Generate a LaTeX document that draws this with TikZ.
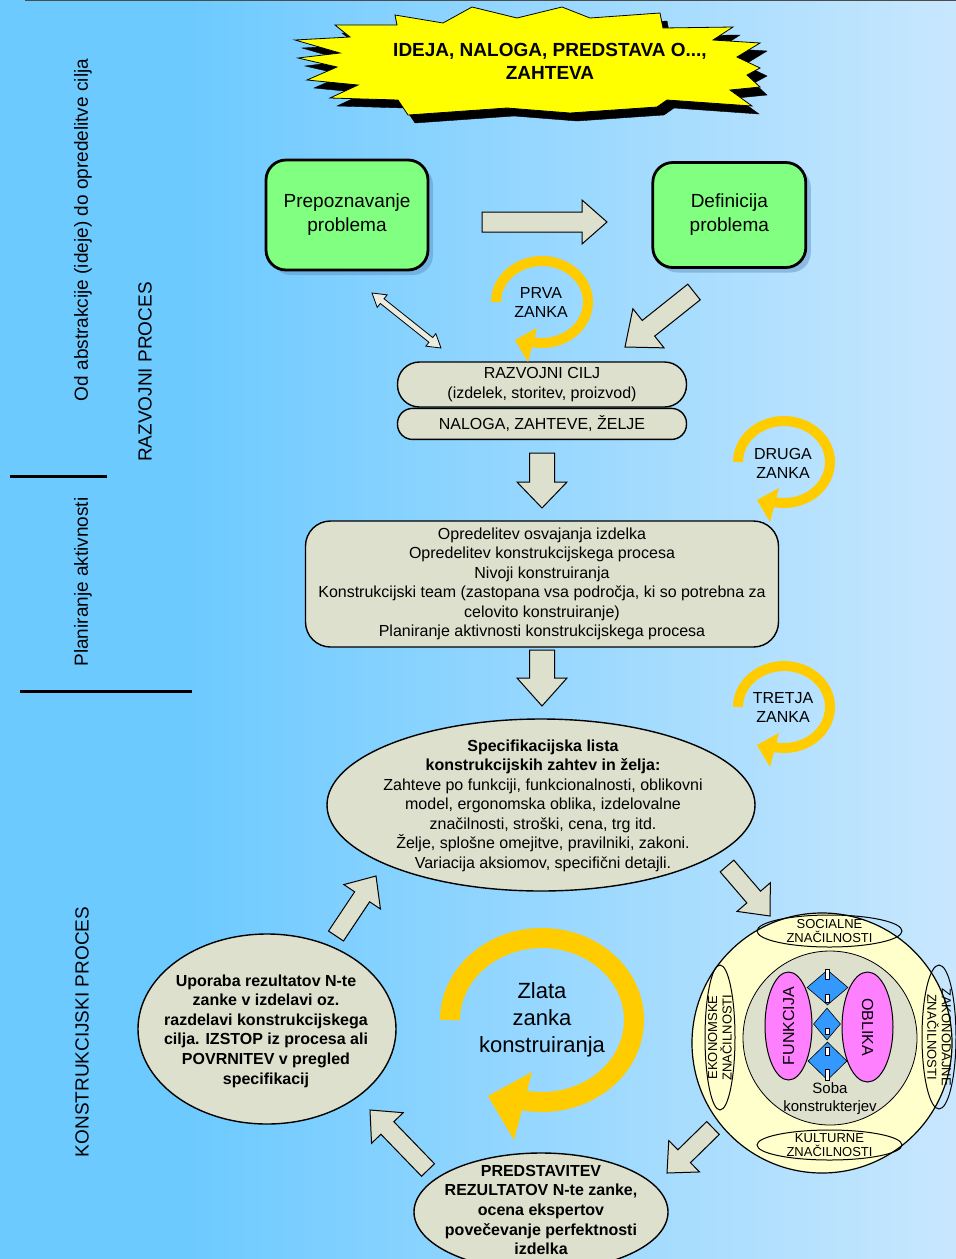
\documentclass[tikz,border=0pt]{standalone}
\usepackage{fontspec}
\setmainfont{Liberation Sans}
\usepackage{xcolor}
\usetikzlibrary{calc,positioning,shapes.geometric,shadows}

\definecolor{ozadjeL}{RGB}{109,202,255}
\definecolor{ozadjeR}{RGB}{200,231,254}
\definecolor{sivka}{RGB}{221,224,204}
\definecolor{zelena}{RGB}{128,255,128}
\definecolor{rumena}{RGB}{255,255,0}
\definecolor{zlata}{RGB}{255,204,0}
\definecolor{krem}{RGB}{255,255,204}
\definecolor{roza}{RGB}{255,128,255}
\definecolor{modra}{RGB}{51,153,255}
\definecolor{senca}{RGB}{90,140,190}

\newcommand\fs[2]{\fontsize{#1}{#2}\selectfont}

\begin{document}
\begin{tikzpicture}[x=1pt, y=-1pt,
  zelen/.style={draw, line width=2.8pt, fill=zelena, rounded corners=20pt, align=center, font={\fs{19}{24}},
    drop shadow={shadow xshift=5pt, shadow yshift=-5pt, fill=senca, opacity=.45}},
  pilula/.style={draw, line width=1.4pt, fill=sivka, align=center, font={\fs{16}{20}}, inner sep=1pt},
  elipsa/.style={ellipse, draw, line width=1.4pt, fill=sivka, inner sep=0pt},
  napis/.style={align=center, font={\fs{16}{19.5}}, inner sep=0pt},
  krepko/.style={align=center, font={\bfseries\fs{16}{19.6}}, inner sep=0pt},
  stran/.style={rotate=90, font={\fs{19}{22}}, inner sep=0pt},
  mali/.style={align=center, font={\fs{13}{14.5}}, inner sep=0pt},
  oval/.style={ellipse, draw, line width=1pt, inner sep=0pt},
  romb/.style={diamond, draw, fill=modra, line width=0.6pt, inner sep=0pt},
  zankanapis/.style={align=center, font={\fs{16}{19}}, inner sep=0pt},
  blok/.style args={#1/#2/#3}{fill=sivka, draw=black, line width=1pt,
    to path={let \p1=($(\tikztotarget)!#3!(\tikztostart)$) in
      ($(\tikztostart)!#1!90:(\tikztotarget)$) -- ($(\p1)!#1!90:(\tikztotarget)$)
      -- ($(\p1)!#2!90:(\tikztotarget)$) -- (\tikztotarget)
      -- ($(\p1)!#2!-90:(\tikztotarget)$) -- ($(\p1)!#1!-90:(\tikztotarget)$)
      -- ($(\tikztostart)!#1!-90:(\tikztotarget)$) -- cycle}},
  dvoj/.style args={#1/#2/#3}{fill=sivka!60!white, draw=black, line width=0.8pt,
    to path={let \p1=($(\tikztostart)!#3!(\tikztotarget)$), \p2=($(\tikztotarget)!#3!(\tikztostart)$) in
      (\tikztostart) -- ($(\p1)!#2!90:(\tikztotarget)$) -- ($(\p1)!#1!90:(\tikztotarget)$)
      -- ($(\p2)!#1!90:(\tikztotarget)$) -- ($(\p2)!#2!90:(\tikztotarget)$) -- (\tikztotarget)
      -- ($(\p2)!#2!-90:(\tikztotarget)$) -- ($(\p2)!#1!-90:(\tikztotarget)$)
      -- ($(\p1)!#1!-90:(\tikztotarget)$) -- ($(\p1)!#2!-90:(\tikztotarget)$) -- cycle}},
  pics/zanka/.style={code={
    \draw[zlata, line width=#1] (180:46 and 41) arc[start angle=180, end angle=462, x radius=46, y radius=41];
    \fill[zlata] (-27,38) -- (-5,26) -- (-14,60) -- cycle;}},
  pics/zvezda/.style={code={
    \filldraw[#1] (295,40) -- (350,37) -- (335,25) -- (397,25) -- (395,15) -- (443,23) -- (472,7)
      -- (517,18) -- (562,7) -- (590,18) -- (660,13) -- (663,28) -- (733,27) -- (713,40) -- (760,43)
      -- (737,57) -- (760,68) -- (747,75) -- (760,87) -- (730,90) -- (752,106) -- (667,100) -- (657,107)
      -- (570,113) -- (507,108) -- (408,115) -- (398,100) -- (330,98) -- (358,85) -- (307,80)
      -- (337,67) -- (298,58) -- (340,53) -- cycle;}}]

  \useasboundingbox (0,0) rectangle (956,1259);
  \clip (0,0) rectangle (956,1259);
  \fill[ozadjeL] (0,0) rectangle (956,1259);
  \shade[left color=ozadjeL, right color=ozadjeR] (190,0) rectangle (956,1259);
  \draw[gray!60!black, line width=0.8pt] (25,0.4) -- (956,0.4);

  \draw[line width=3pt] (10,476) -- (107,476);
  \draw[line width=3pt] (20,691) -- (192,691);
  \node[stran] (abstr)  at (83,230)  {Od abstrakcije (ideje) do opredelitve cilja};
  \node[stran] (razv)   at (145,372) {RAZVOJNI PROCES};
  \node[stran] (plakt)  at (83,582)  {Planiranje aktivnosti};
  \node[stran] (konstr) at (82,1032) {KONSTRUKCIJSKI PROCES};

  \pic at (7,8) {zvezda={fill=black}};
  \pic {zvezda={fill=rumena, draw=black, line width=0.8pt}};
  \node[font={\bfseries\fs{19}{23}}, align=center] (ideja) at (550,61) {IDEJA, NALOGA, PREDSTAVA O...,\\ZAHTEVA};

  \node[zelen, minimum width=162pt, minimum height=110pt] (prep) at (347,215) {Prepoznavanje\\problema};
  \node[zelen, minimum width=153pt, minimum height=105pt] (defi) [right=222pt of prep] {Definicija\\problema};

  \node[pilula, rounded corners=22pt, minimum width=289pt, minimum height=45pt] (cilj) at (542,384.5) {RAZVOJNI CILJ\\(izdelek, storitev, proizvod)};
  \node[pilula, rounded corners=15pt, minimum width=289pt, minimum height=31pt] (naloga) [below=0pt of cilj] {NALOGA, ZAHTEVE, ŽELJE};

  \node[pilula, rounded corners=25pt, minimum width=473pt, minimum height=126pt, font={\fs{16}{19.5}}] (plan) at (542,584)
    {Opredelitev osvajanja izdelka\\Opredelitev konstrukcijskega procesa\\Nivoji konstruiranja\\
     Konstrukcijski team (zastopana vsa področja, ki so potrebna za\\celovito konstruiranje)\\
     Planiranje aktivnosti konstrukcijskega procesa};

  \node[elipsa, minimum width=428pt, minimum height=172pt] (spec) at (541,805) {};
  \node[napis] (spectxt) at (543,805.5) {\textbf{Specifikacijska lista}\\\textbf{konstrukcijskih zahtev in želja:}\\
     Zahteve po funkciji, funkcionalnosti, oblikovni\\model, ergonomska oblika, izdelovalne\\
     značilnosti, stroški, cena, trg itd.\\Želje, splošne omejitve, pravilniki, zakoni.\\
     Variacija aksiomov, specifični detajli.};

  \node[elipsa, minimum width=258pt, minimum height=190pt] (upor) at (267,1029) {};
  \node[krepko] (uportxt) at (266,1031) {Uporaba rezultatov N-te\\zanke v izdelavi oz.\\razdelavi konstrukcijskega\\
     cilja. IZSTOP iz procesa ali\\POVRNITEV v pregled\\specifikacij};

  \node[elipsa, minimum width=254pt, minimum height=118pt] (pred) at (541,1212) {};
  \node[krepko] (predtxt) at (541,1210) {PREDSTAVITEV\\REZULTATOV N-te zanke,\\ocena ekspertov\\
     povečevanje perfektnosti\\izdelka};

  \node[ellipse, draw, line width=1.2pt, fill=krem, minimum width=260pt, minimum height=260pt] (sfera) at (822,1043) {};
  \node[circle, draw, line width=0.8pt, fill=sivka, minimum size=174pt] (soba) at (830,1038) {};
  \node[oval, minimum width=145pt, minimum height=32pt] (social) at (829.5,931) {};
  \node[mali] (socialtxt) at (social) {SOCIALNE\\ZNAČILNOSTI};
  \node[oval, minimum width=145pt, minimum height=30pt] (kultur) at (829.5,1145) {};
  \node[mali] (kulturtxt) at (kultur) {KULTURNE\\ZNAČILNOSTI};
  \node[oval, minimum width=30pt, minimum height=145pt] (ekonom) at (720,1037.5) {};
  \node[mali, rotate=90] (ekonomtxt) at (ekonom) {EKONOMSKE\\ZNAČILNOSTI};
  \node[oval, minimum width=34pt, minimum height=144pt] (zakon) at (939,1037) {};
  \node[mali, rotate=-90] (zakontxt) at (zakon) {ZAKONODAJNE\\ZNAČILNOSTI};
  \node[oval, fill=roza, minimum width=47pt, minimum height=108pt] (funk) at (788.5,1026) {};
  \node[rotate=90, font={\fs{16}{19}}, inner sep=0pt] (funktxt) at (funk) {FUNKCIJA};
  \node[oval, fill=roza, minimum width=51pt, minimum height=110pt] (obl) at (867.5,1027) {};
  \node[rotate=-90, font={\fs{16}{19}}, inner sep=0pt] (obltxt) at (obl) {OBLIKA};
  \node[romb, minimum width=41pt, minimum height=35pt] (r1) at (827.5,987.5) {};
  \node[romb, minimum width=27pt, minimum height=32pt] (r2) at (827,1024) {};
  \node[romb, minimum width=39pt, minimum height=38pt] (r3) at (827.5,1061) {};
  \filldraw[fill=white, line width=0.3pt] (825.5,969) rectangle (829.5,979) (825.5,994) rectangle (829.5,1002)
    (825.5,1028) rectangle (829.5,1034) (825.5,1047) rectangle (829.5,1055) (825.5,1069) rectangle (829.5,1080);
  \node[align=center, font={\fs{15}{18}}, inner sep=0pt] (sobatxt) at (830,1099) {Soba\\konstrukterjev};

  \node[zankanapis] (prva)   at (541,302)  {PRVA\\ZANKA};
  \node[zankanapis] (druga)  at (783,463)  {DRUGA\\ZANKA};
  \node[zankanapis] (tretja) at (783,707)  {TRETJA\\ZANKA};
  \node[align=center, font={\fs{22}{27}}, inner sep=0pt] (zlatazanka) at (542,1020) {Zlata\\zanka\\konstruiranja};
  \pic at (542,302) {zanka=10pt};
  \pic at (784,462) {zanka=10pt};
  \pic at (784,707) {zanka=10pt};
  \pic[scale=2] at (542,1020) {zanka=20pt};

  \coordinate (h1) at (482,222);
  \coordinate (h2) at (607,222);
  \coordinate (d1) at (694,292);
  \coordinate (d2) at (625,347);
  \coordinate (v1) at (372,293);
  \coordinate (v2) at (441,348);
  \coordinate (p1) at (542,453);
  \coordinate (p2) at (542,508);
  \coordinate (p3) at (542,650);
  \coordinate (p4) at (542,706);
  \coordinate (s1) at (727,866);
  \coordinate (s2) at (770,916);
  \coordinate (s3) at (713,1128);
  \coordinate (s4) at (667,1173);
  \coordinate (s5) at (428,1170);
  \coordinate (s6) at (370,1110);
  \coordinate (s7) at (336,936);
  \coordinate (s8) at (376,876);

  \path (h1) edge[blok={10pt/22pt/25pt}]     (h2)
        (d1) edge[blok={10pt/25pt/30pt}]     (d2)
        (v1) edge[dvoj={3pt/8pt/13pt}]       (v2)
        (p1) edge[blok={12.5pt/25pt/26pt}]   (p2)
        (p3) edge[blok={12.5pt/25pt/28pt}]   (p4)
        (s1) edge[blok={9pt/22pt/25pt}]      (s2)
        (s3) edge[blok={9pt/22pt/24pt}]      (s4)
        (s5) edge[blok={9pt/22pt/25pt}]      (s6)
        (s7) edge[blok={9pt/22pt/25pt}]      (s8);
\end{tikzpicture}
\end{document}
